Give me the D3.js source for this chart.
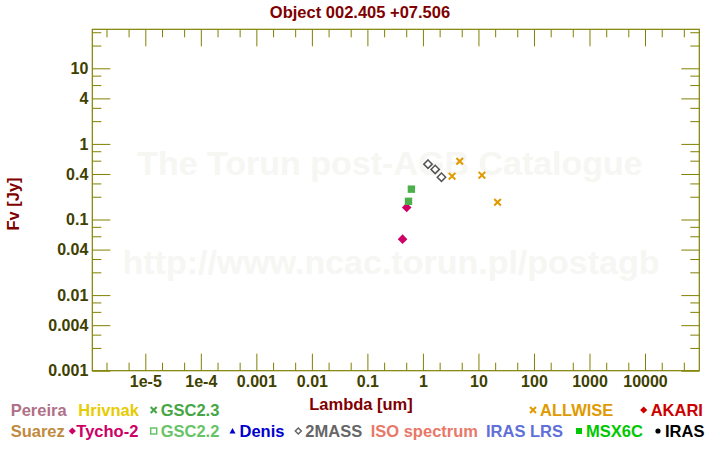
<!DOCTYPE html>
<html>
<head>
<meta charset="utf-8">
<script src="https://cdn.jsdelivr.net/npm/d3@7/dist/d3.min.js"></script>
<style>
  html, body { margin: 0; padding: 0; background: #fff; }
  svg { display: block; font-family: "Liberation Sans", Arial, sans-serif; }
</style>
</head>
<body>
<svg id="chart" width="720" height="450"></svg>
<script>
// ---------- data ----------
const titleText = "Object 002.405 +07.506";
const xTickValues = [1e-5, 1e-4, 1e-3, 1e-2, 1e-1, 1, 10, 100, 1000, 10000];
const xTickLabels = ["1e-5", "1e-4", "0.001", "0.01", "0.1", "1", "10", "100", "1000", "10000"];
const yTickValues = [0.001, 0.004, 0.01, 0.04, 0.1, 0.4, 1, 4, 10];
const yTickLabels = ["0.001", "0.004", "0.01", "0.04", "0.1", "0.4", "1", "4", "10"];

const tychoLambda = [0.43, 0.51];
const tychoFlux = [0.055, 0.144];
const gscLambda = [0.55, 0.62];
const gscFlux = [0.174, 0.252];
const twomassLambda = [1.235, 1.662, 2.159];
const twomassFlux = [0.54, 0.46, 0.363];
const allwiseLambda = [3.35, 4.6, 11.56, 22.1];
const allwiseFlux = [0.374, 0.59, 0.386, 0.169];

const legendRow1 = [
  { label: "Pereira", color: "#b07088", marker: null, x: 10.7 },
  { label: "Hrivnak", color: "#e6cc00", marker: null, x: 78.3 },
  { label: "GSC2.3", color: "#44a644", marker: "x", x: 150.7 },
  { label: "ALLWISE", color: "#e09a00", marker: "x", x: 530 },
  { label: "AKARI", color: "#cc0000", marker: "diamondFilled", x: 640.7 }
];
const legendRow2 = [
  { label: "Suarez", color: "#c08a40", marker: null, x: 10.7 },
  { label: "Tycho-2", color: "#cc0066", marker: "diamondFilled", x: 69.3 },
  { label: "GSC2.2", color: "#66c466", marker: "squareOpen", x: 150.7 },
  { label: "Denis", color: "#0000cc", marker: "triangle", x: 229.5 },
  { label: "2MASS", color: "#666666", marker: "diamondOpen", x: 295.3 },
  { label: "ISO spectrum", color: "#e87868", marker: null, x: 370.7 },
  { label: "IRAS LRS", color: "#6070d8", marker: null, x: 486 },
  { label: "MSX6C", color: "#00c800", marker: "squareFilled", x: 576 },
  { label: "IRAS", color: "#000000", marker: "dot", x: 655 }
];

// ---------- layout ----------
const L = 92.3, R = 699.3, T = 29.3, B = 370.7;
const axisColor = "#808000";
const tickTextColor = "#404000";
const titleColor = "#800000";

const svg = d3.select("#chart");

const x = d3.scaleLog().domain([1.11e-6, 9.5e4]).range([L, R]);
const y = d3.scaleLog().domain([0.001, 32.8]).range([B, T]);

// watermark
const wm = svg.append("g").attr("fill", "#f6f6f3").attr("font-weight", "bold")
  .attr("font-size", "34px").attr("text-anchor", "middle");
wm.append("text").attr("x", 390).attr("y", 175).text("The Torun post-AGB Catalogue");
wm.append("text").attr("x", 391).attr("y", 274).text("http://www.ncac.torun.pl/postagb");

// minor tick values
const xMinor = [];
for (let e = -6; e <= 4; e++) { [2, 5].forEach(m => { const v = m * Math.pow(10, e); if (v > x.domain()[0] && v < x.domain()[1]) xMinor.push(v); }); }
const yMinor = [];
for (let e = -3; e <= 1; e++) { [2, 3, 6, 8].forEach(m => { const v = m * Math.pow(10, e); if (v > y.domain()[0] && v < y.domain()[1]) yMinor.push(v); }); }

function styleAxis(g) {
  g.select(".domain").remove();
  g.selectAll(".tick line").attr("stroke", axisColor).attr("stroke-width", 1);
  g.selectAll(".tick text").attr("fill", tickTextColor).attr("font-weight", "bold")
    .attr("font-size", "16px").attr("font-family", "'Liberation Sans', Arial, sans-serif");
}

// bottom
svg.append("g").attr("transform", `translate(0,${B})`)
  .call(d3.axisBottom(x).tickValues(xTickValues).tickFormat((d, i) => xTickLabels[i]).tickSize(-17).tickSizeOuter(0).tickPadding(5))
  .call(styleAxis);
svg.append("g").attr("transform", `translate(0,${B})`)
  .call(d3.axisBottom(x).tickValues(xMinor).tickFormat("").tickSize(-8).tickSizeOuter(0))
  .call(styleAxis);
// top
svg.append("g").attr("transform", `translate(0,${T})`)
  .call(d3.axisTop(x).tickValues(xTickValues).tickFormat("").tickSize(-17).tickSizeOuter(0))
  .call(styleAxis);
svg.append("g").attr("transform", `translate(0,${T})`)
  .call(d3.axisTop(x).tickValues(xMinor).tickFormat("").tickSize(-8).tickSizeOuter(0))
  .call(styleAxis);
// left
svg.append("g").attr("transform", `translate(${L},0)`)
  .call(d3.axisLeft(y).tickValues(yTickValues).tickFormat((d, i) => yTickLabels[i]).tickSize(-18).tickSizeOuter(0).tickPadding(4))
  .call(styleAxis);
svg.append("g").attr("transform", `translate(${L},0)`)
  .call(d3.axisLeft(y).tickValues(yMinor).tickFormat("").tickSize(-9).tickSizeOuter(0))
  .call(styleAxis);
// right
svg.append("g").attr("transform", `translate(${R},0)`)
  .call(d3.axisRight(y).tickValues(yTickValues).tickFormat("").tickSize(-18).tickSizeOuter(0))
  .call(styleAxis);
svg.append("g").attr("transform", `translate(${R},0)`)
  .call(d3.axisRight(y).tickValues(yMinor).tickFormat("").tickSize(-9).tickSizeOuter(0))
  .call(styleAxis);

// frame
svg.append("rect").attr("x", L).attr("y", T).attr("width", R - L).attr("height", B - T)
  .attr("fill", "none").attr("stroke", axisColor).attr("stroke-width", 1.2);

// titles
svg.append("text").attr("x", 360).attr("y", 18).attr("text-anchor", "middle")
  .attr("fill", titleColor).attr("font-weight", "bold").attr("font-size", "16.5px").text(titleText);
svg.append("text").attr("x", 361).attr("y", 410).attr("text-anchor", "middle")
  .attr("fill", titleColor).attr("font-weight", "bold").attr("font-size", "16.5px").text("Lambda [um]");
svg.append("text").attr("transform", "translate(19,204) rotate(-90)").attr("text-anchor", "middle")
  .attr("fill", titleColor).attr("font-weight", "bold").attr("font-size", "16.5px").text("Fv [Jy]");

// marker drawing
function drawMarker(g, type, cx, cy, color, s) {
  if (type === "x") {
    g.append("path").attr("d", `M${cx - s},${cy - s}L${cx + s},${cy + s}M${cx - s},${cy + s}L${cx + s},${cy - s}`)
      .attr("stroke", color).attr("stroke-width", 2).attr("fill", "none");
  } else if (type === "diamondFilled") {
    g.append("path").attr("d", `M${cx},${cy - s * 1.2}L${cx + s * 1.2},${cy}L${cx},${cy + s * 1.2}L${cx - s * 1.2},${cy}Z`)
      .attr("fill", color);
  } else if (type === "diamondOpen") {
    g.append("path").attr("d", `M${cx},${cy - s}L${cx + s},${cy}L${cx},${cy + s}L${cx - s},${cy}Z`)
      .attr("fill", "none").attr("stroke", color).attr("stroke-width", 1.5);
  } else if (type === "squareOpen") {
    g.append("rect").attr("x", cx - s).attr("y", cy - s).attr("width", 2 * s).attr("height", 2 * s)
      .attr("fill", "none").attr("stroke", color).attr("stroke-width", 1.5);
  } else if (type === "squareFilled") {
    g.append("rect").attr("x", cx - s).attr("y", cy - s).attr("width", 2 * s).attr("height", 2 * s).attr("fill", color);
  } else if (type === "triangle") {
    g.append("path").attr("d", `M${cx},${cy - s}L${cx + s},${cy + s * 0.8}L${cx - s},${cy + s * 0.8}Z`).attr("fill", color);
  } else if (type === "dot") {
    g.append("circle").attr("cx", cx).attr("cy", cy).attr("r", s).attr("fill", color);
  }
}

// data marks
const marks = svg.append("g");
tychoLambda.forEach((l, i) => drawMarker(marks, "diamondFilled", x(l), y(tychoFlux[i]), "#cc0066", 4));
gscLambda.forEach((l, i) => marks.append("rect").attr("x", x(l) - 3.7).attr("y", y(gscFlux[i]) - 3.7)
  .attr("width", 7.4).attr("height", 7.4).attr("fill", "#4caf4c"));
twomassLambda.forEach((l, i) => drawMarker(marks, "diamondOpen", x(l), y(twomassFlux[i]), "#555555", 4.2));
allwiseLambda.forEach((l, i) => drawMarker(marks, "x", x(l), y(allwiseFlux[i]), "#e09a00", 3.3));

// legend
function drawLegendRow(items, cy) {
  const g = svg.append("g");
  items.forEach(it => {
    let tx = it.x;
    if (it.marker) {
      const s = it.marker === "x" ? 3 : (it.marker === "dot" ? 2.6 : 3);
      drawMarker(g, it.marker, it.x + 3, cy, it.color, s);
      tx = it.x + (it.label === "Tycho-2" ? 7 : 10);
    }
    g.append("text").attr("x", tx).attr("y", cy + 5.5).attr("fill", it.color)
      .attr("font-weight", "bold").attr("font-size", "16.5px").text(it.label);
  });
}
drawLegendRow(legendRow1, 410);
drawLegendRow(legendRow2, 431);
</script>
</body>
</html>
